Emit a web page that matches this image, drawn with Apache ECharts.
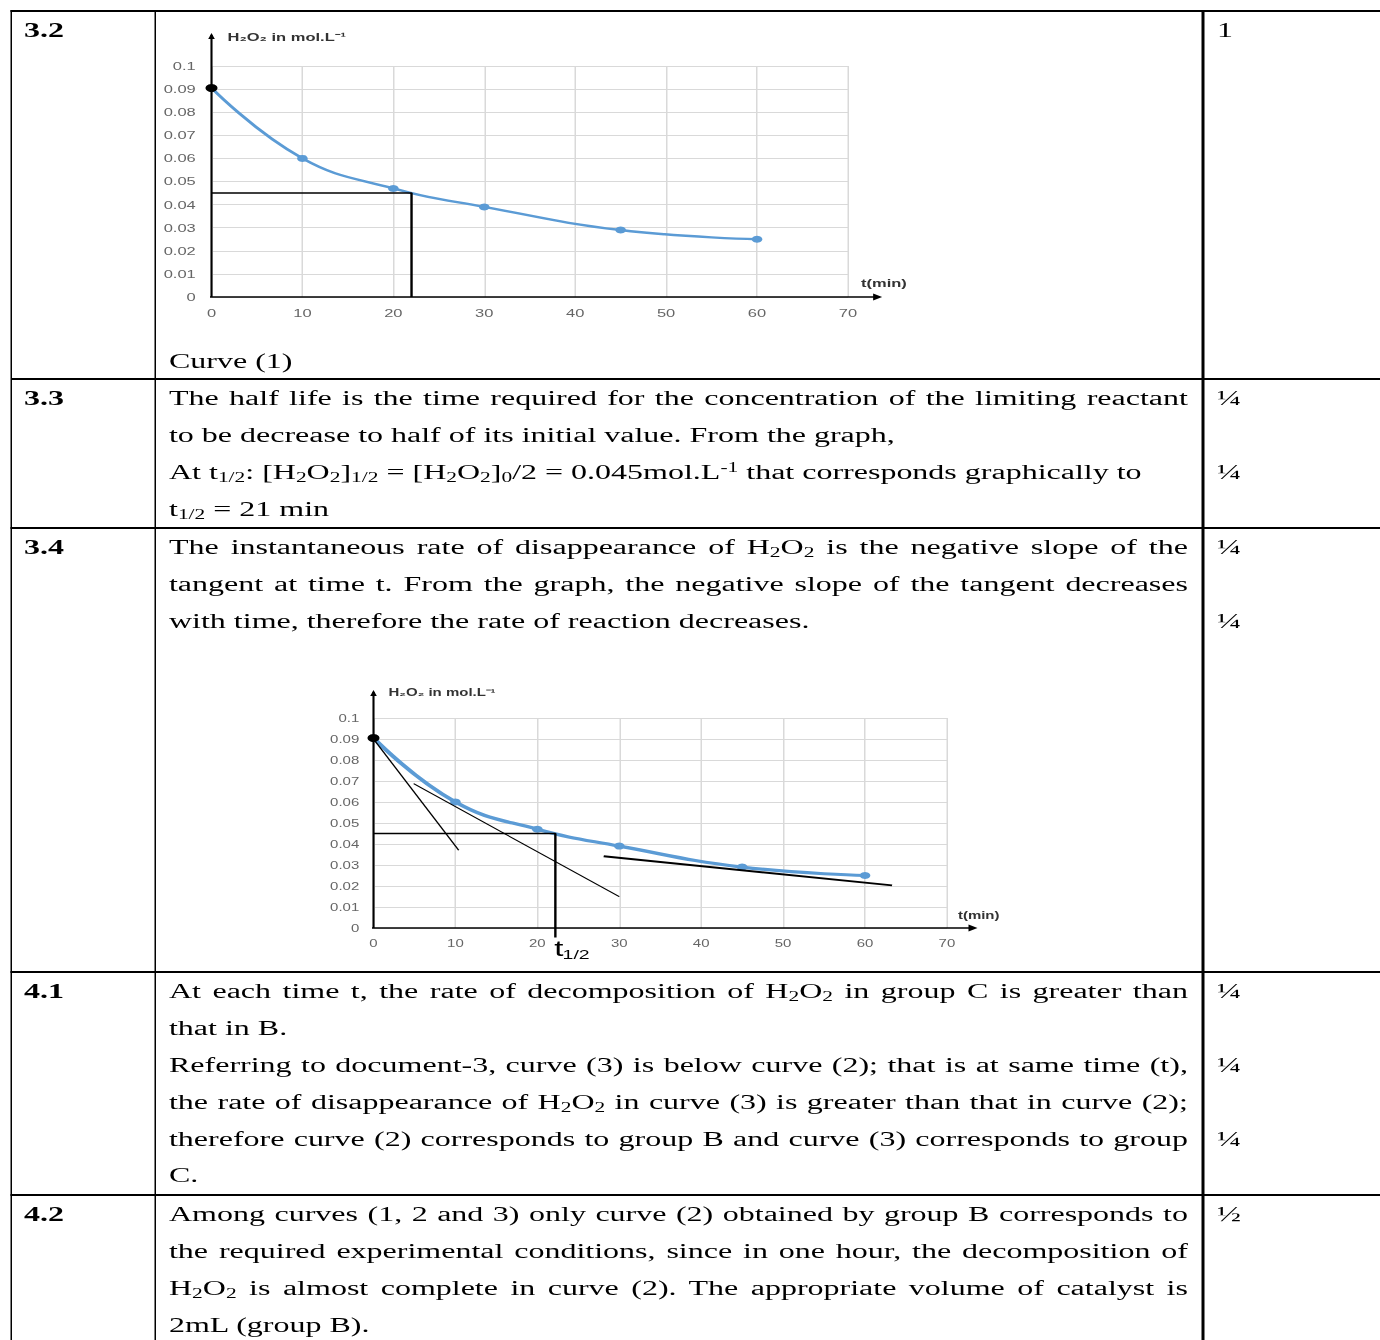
<!DOCTYPE html>
<html><head><meta charset="utf-8">
<script src="https://cdn.jsdelivr.net/npm/echarts@6/dist/echarts.min.js"></script>
<style>
html,body{margin:0;padding:0;background:#fff;width:1380px;height:1340px;overflow:hidden;}
#page{position:absolute;left:0;top:0;width:920px;height:1340px;transform:scaleX(1.5);transform-origin:0 0;
  font-family:"Liberation Serif","Times New Roman",serif;font-size:21.33px;line-height:36.8px;color:#000;}
.h{position:absolute;left:6.6667px;width:930px;height:2px;background:#000;}
.v{position:absolute;top:10px;width:1.3333px;height:1340px;background:#000;}
.num{position:absolute;left:16px;font-weight:bold;}
.txt{position:absolute;left:112.67px;width:679.3px;}
.txt div{white-space:nowrap;height:36.8px;}
.j{text-align:justify;text-align-last:justify;}
.mk{position:absolute;left:811.3px;}
.mk div{height:36.8px;}
sub{font-size:0.67em;vertical-align:-0.22em;line-height:0;}
sup{font-size:0.67em;vertical-align:0.5em;line-height:0;}
.chart{position:absolute;}
</style>
</head>
<body>
<div id="page">
  <div class="h" style="top:10px"></div>
  <div class="h" style="top:378px"></div>
  <div class="h" style="top:527px"></div>
  <div class="h" style="top:971px"></div>
  <div class="h" style="top:1194px"></div>
  <div class="v" style="left:6.6667px"></div>
  <div class="v" style="left:102.6667px"></div>
  <div class="v" style="left:801.3333px"></div>

  <!-- 3.2 -->
  <div class="num" style="top:12px">3.2</div>
  <div class="mk" style="top:12px"><div>1</div></div>
  <div class="chart" id="c1" style="left:103.33px;top:15px;width:513.33px;height:320px"></div>
  <div class="txt" style="top:343.2px"><div>Curve (1)</div></div>

  <!-- 3.3 -->
  <div class="num" style="top:380.4px">3.3</div>
  <div class="txt" style="top:380.4px">
    <div class="j">The half life is the time required for the concentration of the limiting reactant</div>
    <div>to be decrease to half of its initial value. From the graph,</div>
    <div>At t<sub>1/2</sub>: [H<sub>2</sub>O<sub>2</sub>]<sub>1/2</sub> = [H<sub>2</sub>O<sub>2</sub>]<sub>0</sub>/2 = 0.045mol.L<sup>-1</sup> that corresponds graphically to</div>
    <div>t<sub>1/2</sub> = 21 min</div>
  </div>
  <div class="mk" style="top:380.4px"><div>¼</div><div></div><div>¼</div></div>

  <!-- 3.4 -->
  <div class="num" style="top:529.4px">3.4</div>
  <div class="txt" style="top:529.4px">
    <div class="j">The instantaneous rate of disappearance of H<sub>2</sub>O<sub>2</sub> is the negative slope of the</div>
    <div class="j">tangent at time t. From the graph, the negative slope of the tangent decreases</div>
    <div>with time, therefore the rate of reaction decreases.</div>
  </div>
  <div class="mk" style="top:529.4px"><div>¼</div><div></div><div>¼</div></div>
  <div class="chart" id="c2" style="left:206.67px;top:675px;width:466.67px;height:290px"></div>

  <!-- 4.1 -->
  <div class="num" style="top:973.4px">4.1</div>
  <div class="txt" style="top:973.4px">
    <div class="j">At each time t, the rate of decomposition of H<sub>2</sub>O<sub>2</sub> in group C is greater than</div>
    <div>that in B.</div>
    <div class="j">Referring to document-3, curve (3) is below curve (2); that is at same time (t),</div>
    <div class="j">the rate of disappearance of H<sub>2</sub>O<sub>2</sub> in curve (3) is greater than that in curve (2);</div>
    <div class="j">therefore curve (2) corresponds to group B and curve (3) corresponds to group</div>
    <div>C.</div>
  </div>
  <div class="mk" style="top:973.4px"><div>¼</div><div></div><div>¼</div><div></div><div>¼</div></div>

  <!-- 4.2 -->
  <div class="num" style="top:1196.4px">4.2</div>
  <div class="txt" style="top:1196.4px">
    <div class="j">Among curves (1, 2 and 3) only curve (2) obtained by group B corresponds to</div>
    <div class="j">the required experimental conditions, since in one hour, the decomposition of</div>
    <div class="j">H<sub>2</sub>O<sub>2</sub> is almost complete in curve (2). The appropriate volume of catalyst is</div>
    <div>2mL (group B).</div>
  </div>
  <div class="mk" style="top:1196.4px"><div>½</div></div>
</div>

<script>
// ---- data ----
const timeMin   = [0, 10, 20, 30, 45, 60];
const h2o2Conc  = [0.0905, 0.060, 0.047, 0.039, 0.029, 0.025];
const xTickLabels = [0, 10, 20, 30, 40, 50, 60, 70];
const yTickLabels = [0, 0.01, 0.02, 0.03, 0.04, 0.05, 0.06, 0.07, 0.08, 0.09, 0.1];
const halfLifeConc = 0.045;
const halfLifeTime1 = 22;
const halfLifeTime2 = 22.2;
const tangentA = [[0, 0.09], [10.4, 0.037]];
const tangentB = [[4.9, 0.0687], [30, 0.0149]];
const tangentC = [[28.1, 0.0342], [63.3, 0.0203]];
const yTitle = 'H₂O₂ in mol.L⁻¹';
const xTitle = 't(min)';

function buildChart(id, cfg) {
  const chart = echarts.init(document.getElementById(id), null, {renderer: 'svg'});
  const curveData = timeMin.map((t, i) => i === 0
    ? {value: [t, h2o2Conc[i]], symbolSize: cfg.firstDot, itemStyle: {color: '#000'}}
    : [t, h2o2Conc[i]]);
  const series = [{
    type: 'line', data: curveData, smooth: 0.45, symbol: 'circle', symbolSize: cfg.dot,
    lineStyle: {color: '#5b9bd5', width: cfg.lineW}, itemStyle: {color: '#5b9bd5'},
    z: 3, silent: true
  }, {
    type: 'line', data: cfg.halfLine, symbol: 'none', clip: false,
    lineStyle: {color: '#000', width: 1.6}, z: 4, silent: true
  }];
  cfg.tangents.forEach(tg => series.push({
    type: 'line', data: tg.pts, symbol: 'none', clip: false,
    lineStyle: {color: '#000', width: tg.w}, z: 5, silent: true
  }));
  const labelStyle = {color: '#666', fontFamily: '"Liberation Sans", Arial, sans-serif', fontSize: cfg.fs};
  chart.setOption({
    animation: false,
    grid: Object.assign({outerBoundsMode: 'none', containLabel: false}, cfg.grid),
    xAxis: {
      type: 'value', min: xTickLabels[0], max: xTickLabels[xTickLabels.length - 1],
      interval: xTickLabels[1] - xTickLabels[0],
      axisLine: {show: false}, axisTick: {show: false},
      splitLine: {show: true, lineStyle: {color: '#d9d9d9', width: 1}},
      axisLabel: Object.assign({margin: cfg.xMargin}, labelStyle)
    },
    yAxis: {
      type: 'value', min: yTickLabels[0], max: yTickLabels[yTickLabels.length - 1],
      interval: yTickLabels[1] - yTickLabels[0],
      axisLine: {show: false}, axisTick: {show: false},
      splitLine: {show: true, lineStyle: {color: '#d9d9d9', width: 1}},
      axisLabel: Object.assign({margin: cfg.yMargin, formatter: v => String(+v.toFixed(2))}, labelStyle)
    },
    series: series
  });
  const p = (x, y) => chart.convertToPixel({gridIndex: 0}, [x, y]);
  const o = p(0, 0), xe = p(cfg.xEnd, 0), ye = p(0, cfg.yEnd), xm = p(xTickLabels[xTickLabels.length - 1], 0);
  const g = [
    {type: 'line', z: 10, shape: {x1: o[0] - 1, y1: o[1], x2: xe[0], y2: xe[1]}, style: {stroke: '#000', lineWidth: 1.5}},
    {type: 'line', z: 10, shape: {x1: o[0], y1: o[1], x2: ye[0], y2: ye[1] + 2}, style: {stroke: '#000', lineWidth: 1.4}},
    {type: 'polygon', z: 10, shape: {points: [[xe[0] + 4, xe[1]], [xe[0] - 2, xe[1] - 3.5], [xe[0] - 2, xe[1] + 3.5]]}, style: {fill: '#000'}},
    {type: 'polygon', z: 10, shape: {points: [[ye[0], ye[1]], [ye[0] - 2.2, ye[1] + 6], [ye[0] + 2.2, ye[1] + 6]]}, style: {fill: '#000'}},
    {type: 'text', z: 10, x: ye[0] + cfg.titleDx, y: ye[1] + cfg.titleDy,
      style: {text: yTitle, fill: '#333', font: 'bold ' + cfg.fs + 'px "Liberation Sans", Arial, sans-serif', align: 'left', verticalAlign: 'middle'}},
    {type: 'text', z: 10, x: xm[0] + cfg.xtDx, y: xm[1] + cfg.xtDy,
      style: {text: xTitle, fill: '#333', font: 'bold ' + cfg.fs + 'px "Liberation Sans", Arial, sans-serif', align: 'left', verticalAlign: 'middle'}}
  ];
  if (cfg.halfLabel) {
    const hp = p(cfg.halfLabel, 0);
    g.push({type: 'text', z: 10, x: hp[0] - 0.8, y: hp[1] + 32,
      style: {text: 't', fill: '#000', font: '22px "Liberation Sans Narrow", "Liberation Sans", Arial, sans-serif', align: 'left', verticalAlign: 'bottom'}});
    g.push({type: 'text', z: 10, x: hp[0] + 4.8, y: hp[1] + 33.5,
      style: {text: '1/2', fill: '#000', font: '13px "Liberation Sans Narrow", "Liberation Sans", Arial, sans-serif', align: 'left', verticalAlign: 'bottom'}});
  }
  chart.setOption({graphic: g});
}

buildChart('c1', {
  grid: {left: 38, right: 50.7, top: 51, bottom: 38},
  fs: 11, xMargin: 11, yMargin: 10.5, dot: 7, firstDot: 8, lineW: 2.4,
  xEnd: 73.1, yEnd: 0.1143, titleDx: 10.7, titleDy: 4, xtDx: 8.7, xtDy: -14,
  halfLine: [[0, halfLifeConc], [halfLifeTime1, halfLifeConc], [halfLifeTime1, 0]],
  tangents: []
});

buildChart('c2', {
  grid: {left: 42, right: 42.7, top: 43, bottom: 37},
  fs: 10, xMargin: 10, yMargin: 9.5, dot: 7, firstDot: 8, lineW: 3.2,
  xEnd: 73.0, yEnd: 0.1133, titleDx: 10, titleDy: 2, xtDx: 7.3, xtDy: -13,
  halfLine: [[0, halfLifeConc], [halfLifeTime2, halfLifeConc], [halfLifeTime2, -0.0045]],
  halfLabel: halfLifeTime2,
  tangents: [{pts: tangentA, w: 1}, {pts: tangentB, w: 1}, {pts: tangentC, w: 2}]
});
</script>
</body></html>
